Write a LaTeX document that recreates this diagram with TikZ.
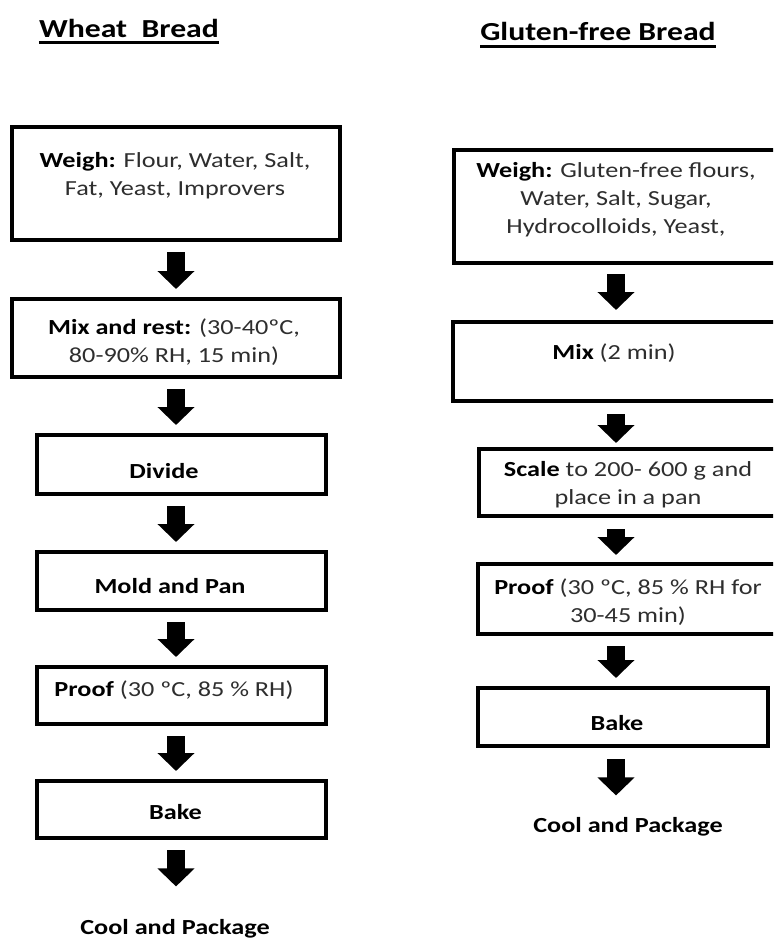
\documentclass[tikz,border=0pt]{standalone}
\usepackage{fontspec}
\setmainfont{Carlito}[FakeStretch=1.22]
\usetikzlibrary{arrows.meta,calc}
\newcommand{\stepname}[1]{{\bfseries\color{black}#1}}
\begin{document}
\begin{tikzpicture}[x=1pt,y=-1pt,
  stepbox/.style={draw=black, line width=4pt, rectangle, inner sep=0pt},
  txt/.style={font=\fontsize{21.5}{28}\selectfont, text=black!82, align=center, inner sep=0pt},
  boldtxt/.style={txt, font=\fontsize{21.5}{28}\selectfont\bfseries, text=black},
  bigarrow/.style={line width=18pt, -{Triangle[width=36pt,length=18pt]}, shorten <=10pt, shorten >=8pt},
  heading/.style={font=\fontsize{26}{30}\selectfont\bfseries, inner sep=0pt, anchor=base},
  headline/.style={line width=2.5pt}]
\useasboundingbox (0,0) rectangle (773,941);
\clip (0,0) rectangle (773,941);
\fill[white] (0,0) rectangle (773,941);

% column axes for the arrows
\coordinate (lc) at (176,0);
\coordinate (rc) at (616,0);

% headings
\node[heading] (t1) at (129,38) {Wheat\ \ Bread};
\draw[headline] ($(t1.base west)+(0,4.5)$) -- ($(t1.base east)+(0,4.5)$);
\node[heading] (t2) at (598,41) {Gluten-free Bread};
\draw[headline] ($(t2.base west)+(0,5.5)$) -- ($(t2.base east)+(0,5.5)$);

% wheat bread process
\node[stepbox, minimum width=328pt, minimum height=113pt] (w1) at (176,183.5) {};
\node[txt] (w1t) at (175,175.5) {\stepname{Weigh:} Flour, Water, Salt,\\Fat, Yeast, Improvers};
\node[stepbox, minimum width=328pt, minimum height=78pt] (w2) at (176,338) {};
\node[txt] (w2t) at (174,342.5) {\stepname{Mix and rest:} (30-40ºC,\\80-90\% RH, 15 min)};
\node[stepbox, minimum width=289pt, minimum height=59pt] (w3) at (181.5,464.5) {};
\node[boldtxt] (w3t) at (164,471) {Divide};
\node[stepbox, minimum width=289pt, minimum height=58pt] (w4) at (181.5,581) {};
\node[boldtxt] (w4t) at (170,586) {Mold and Pan};
\node[stepbox, minimum width=289pt, minimum height=57pt] (w5) at (181.5,695.5) {};
\node[txt] (w5t) at (174,690) {\stepname{Proof} (30 ºC, 85 \% RH)};
\node[stepbox, minimum width=289pt, minimum height=57pt] (w6) at (181.5,809.5) {};
\node[boldtxt] (w6t) at (175.5,812) {Bake};
\node[boldtxt] (wc) at (175,929) {Cool and Package};

\draw[bigarrow] (w1.south -| lc) -- (w2.north -| lc);
\draw[bigarrow] (w2.south -| lc) -- (w3.north -| lc);
\draw[bigarrow] (w3.south -| lc) -- (w4.north -| lc);
\draw[bigarrow] (w4.south -| lc) -- (w5.north -| lc);
\draw[bigarrow] (w5.south -| lc) -- (w6.north -| lc);
\draw[bigarrow, shorten >=33pt] (w6.south -| lc) -- (wc.north -| lc);

% gluten-free bread process
\node[stepbox, minimum width=336pt, minimum height=113pt] (g1) at (622,206.5) {};
\node[txt] (g1t) at (616,200) {\stepname{Weigh:} Gluten-free flours,\\Water, Salt, Sugar,\\Hydrocolloids, Yeast,};
\node[stepbox, minimum width=337pt, minimum height=79pt] (g2) at (621.5,361.5) {};
\node[txt] (g2t) at (614,353) {\stepname{Mix} (2 min)};
\node[stepbox, minimum width=311pt, minimum height=67pt] (g3) at (634.5,482.5) {};
\node[txt] (g3t) at (628,485) {\stepname{Scale} to 200- 600 g and\\place in a pan};
\node[stepbox, minimum width=312pt, minimum height=70pt] (g4) at (634,599) {};
\node[txt] (g4t) at (628,602) {\stepname{Proof} (30 ºC, 85 \% RH for\\30-45 min)};
\node[stepbox, minimum width=290pt, minimum height=58pt] (g5) at (623,717) {};
\node[boldtxt] (g5t) at (617,723) {Bake};
\node[boldtxt] (gc) at (628,827) {Cool and Package};

\draw[bigarrow, shorten <=9pt, shorten >=10pt] (g1.south -| rc) -- (g2.north -| rc);
\draw[bigarrow, shorten <=11pt, shorten >=4pt] (g2.south -| rc) -- (g3.north -| rc);
\draw[bigarrow, shorten <=11pt, shorten >=7pt] (g3.south -| rc) -- (g4.north -| rc);
\draw[bigarrow] (g4.south -| rc) -- (g5.north -| rc);
\draw[bigarrow, shorten <=11pt, shorten >=22pt] (g5.south -| rc) -- (gc.north -| rc);
\end{tikzpicture}
\end{document}
